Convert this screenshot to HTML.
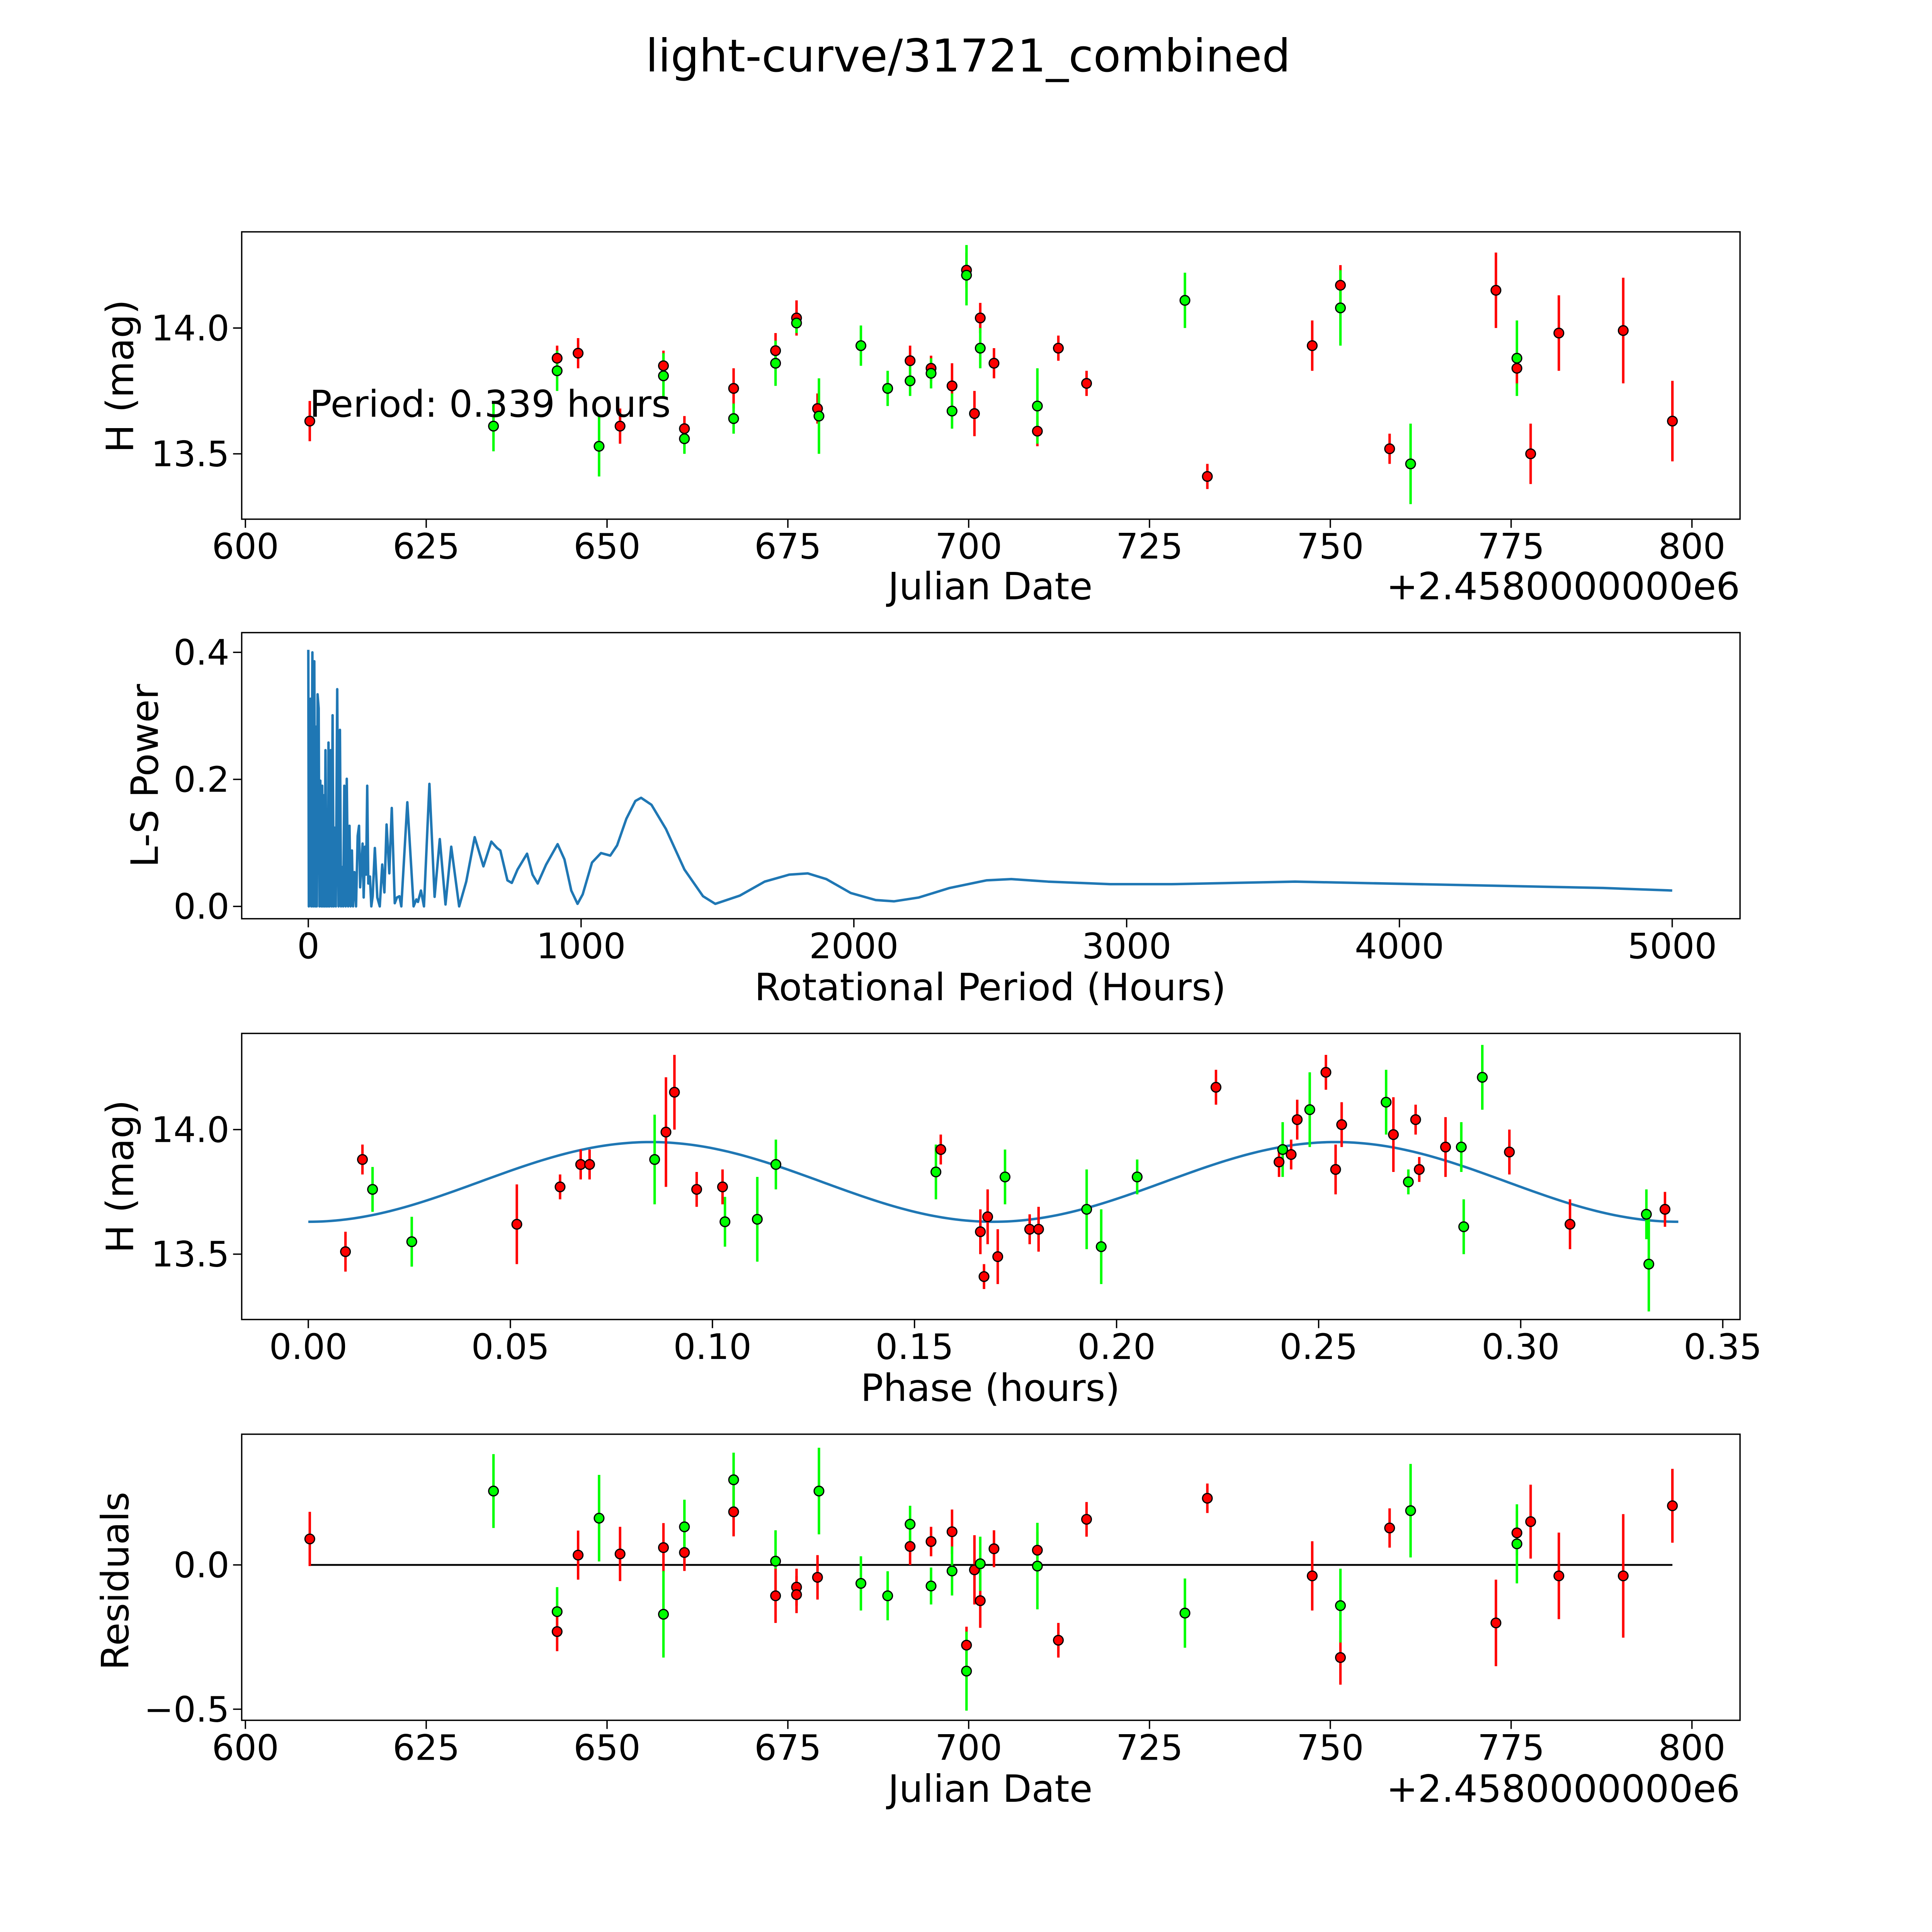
<!DOCTYPE html>
<html><head><meta charset="utf-8"><style>
html,body{margin:0;padding:0;background:#fff;overflow:hidden}
svg{display:block}
text{font-family:"DejaVu Sans","Liberation Sans",sans-serif;fill:#000}
</style></head><body>
<svg id="fig" xmlns="http://www.w3.org/2000/svg" width="5400" height="5400" viewBox="0 0 1692 1692">
<rect width="1692" height="1692" fill="#fff"/>
<text x="785" y="58" font-size="36.5" text-anchor="middle">light-curve/31721_combined</text>
</svg>
<script>
// ---- Panel 1: light curve data ----
const lcJd  = [608.9,634.3,643.1,643.1,646.0,648.9,651.8,657.8,657.8,660.7,660.7,667.5,667.5,673.3,673.3,676.2,676.2,679.1,679.3,685.1,688.8,691.9,691.9,694.8,694.8,697.7,697.7,699.7,699.7,700.8,701.6,701.6,703.5,709.5,709.5,712.4,716.3,729.9,733.0,747.5,751.4,751.4,758.2,761.1,772.9,775.8,775.8,777.7,781.6,790.5,797.3];
const lcMag = [13.63,13.61,13.88,13.83,13.90,13.53,13.61,13.85,13.81,13.60,13.56,13.76,13.64,13.91,13.86,14.04,14.02,13.68,13.65,13.93,13.76,13.87,13.79,13.84,13.82,13.77,13.67,14.23,14.21,13.66,14.04,13.92,13.86,13.59,13.69,13.92,13.78,14.11,13.41,13.93,14.17,14.08,13.52,13.46,14.15,13.88,13.84,13.50,13.98,13.99,13.63];
const lcErr = [0.08,0.10,0.05,0.08,0.06,0.12,0.07,0.06,0.09,0.05,0.06,0.08,0.06,0.07,0.09,0.07,0.04,0.06,0.15,0.08,0.07,0.06,0.06,0.05,0.06,0.09,0.07,0.07,0.12,0.09,0.06,0.08,0.06,0.06,0.15,0.05,0.05,0.11,0.05,0.10,0.08,0.15,0.06,0.16,0.15,0.15,0.06,0.12,0.15,0.21,0.16];
const lcBand= ["r","g","r","g","r","g","r","r","g","r","g","r","g","r","g","r","g","r","g","g","g","r","g","r","g","r","g","r","g","r","r","g","r","r","g","r","r","g","r","r","r","g","r","g","r","g","r","r","r","r","r"];
// ---- Panel 2: periodogram ----
const lsPeriod = [0,2,8,11,15,18,22,25,29,31,34,38,41,44,48,51,54,57,60,63,66,69,72,74,78,82,86,89,93,96,101,106,111,116,120,124,128,132,137,141,146,151,155,160,164,169,175,181,186,190,199,203,208,212,216,220,226,231,236,244,253,262,271,279,287,297,306,317,325,334,341,363,386,396,402,413,424,444,463,482,503,524,553,579,610,642,671,692,704,730,746,767,802,822,841,872,914,939,964,987,1006,1040,1073,1107,1132,1166,1199,1220,1258,1311,1379,1447,1492,1582,1673,1763,1831,1899,1989,2080,2147,2238,2351,2486,2577,2712,2939,3165,3391,3617,3843,4295,4747,5000];
const lsPower  = [0.404,0,0.327,0,0.40,0,0.386,0,0.283,0,0.334,0.312,0,0.198,0,0.19,0,0.175,0,0.246,0,0.153,0,0.258,0,0.246,0,0.301,0,0.124,0,0.342,0,0.278,0,0.062,0,0.19,0,0.201,0,0.127,0,0.088,0,0.054,0,0.111,0.127,0.03,0.099,0.014,0.094,0.05,0.19,0.036,0.047,0,0.016,0.092,0.014,0,0.066,0.022,0.129,0.052,0.155,0.005,0.014,0.016,0,0.164,0,0.011,0.007,0.025,0,0.193,0.015,0.106,0.003,0.094,0,0.039,0.109,0.063,0.102,0.092,0.088,0.041,0.037,0.058,0.083,0.05,0.036,0.066,0.098,0.074,0.025,0.004,0.019,0.069,0.084,0.08,0.096,0.138,0.166,0.171,0.16,0.122,0.058,0.016,0.004,0.017,0.039,0.05,0.052,0.043,0.021,0.01,0.008,0.014,0.029,0.041,0.043,0.039,0.035,0.035,0.037,0.039,0.037,0.033,0.029,0.025];
// ---- Panel 3: phased ----
const phX = [0.0092,0.0134,0.0159,0.0256,0.0516,0.0623,0.0674,0.0696,0.0857,0.0885,0.0906,0.0961,0.1025,0.1031,0.1111,0.1157,0.1553,0.1565,0.1663,0.1681,0.1672,0.1706,0.1724,0.1785,0.1807,0.1926,0.1962,0.2051,0.2246,0.2402,0.2411,0.2432,0.2447,0.2478,0.2518,0.2542,0.2557,0.2667,0.2685,0.2722,0.2740,0.2749,0.2814,0.2853,0.2859,0.2905,0.2972,0.3122,0.3311,0.3317,0.3357];
const phMag = [13.51,13.88,13.76,13.55,13.62,13.77,13.86,13.86,13.88,13.99,14.15,13.76,13.77,13.63,13.64,13.86,13.83,13.92,13.59,13.65,13.41,13.49,13.81,13.60,13.60,13.68,13.53,13.81,14.17,13.87,13.92,13.90,14.04,14.08,14.23,13.84,14.02,14.11,13.98,13.79,14.04,13.84,13.93,13.93,13.61,14.21,13.91,13.62,13.66,13.46,13.68];
const phErr = [0.08,0.06,0.09,0.10,0.16,0.05,0.06,0.06,0.18,0.22,0.15,0.07,0.07,0.10,0.17,0.10,0.11,0.06,0.09,0.11,0.05,0.11,0.11,0.06,0.09,0.16,0.15,0.07,0.07,0.06,0.11,0.06,0.08,0.15,0.07,0.10,0.09,0.13,0.15,0.05,0.06,0.05,0.12,0.10,0.11,0.13,0.09,0.10,0.10,0.19,0.07];
const phBand= ["r","r","g","g","r","r","r","r","g","r","r","r","r","g","g","g","g","r","r","r","r","r","g","r","r","g","g","g","r","r","g","r","r","g","r","r","r","g","r","g","r","r","r","g","g","g","r","r","g","g","r"];
const fitPeriod = 0.339, fitMean = 13.79, fitAmp = 0.16;
// ---- Panel 4: residuals ----
const rsJd  = [608.9,634.3,643.1,643.1,646.0,648.9,651.8,657.8,657.8,660.7,660.7,667.5,667.5,673.3,673.3,676.2,676.2,679.1,679.3,685.1,688.8,691.9,691.9,694.8,694.8,697.7,697.7,699.7,699.7,700.8,701.6,701.6,703.5,709.5,709.5,712.4,716.3,729.9,733.0,747.5,751.4,751.4,758.2,761.1,772.9,775.8,775.8,777.7,781.6,790.5,797.3];
const rsVal = [0.09,0.256,-0.162,-0.231,0.034,0.162,0.038,0.06,-0.171,0.043,0.132,0.184,0.295,0.013,-0.107,-0.077,-0.103,-0.043,0.256,-0.064,-0.107,0.064,0.141,0.081,-0.073,0.115,-0.021,-0.278,-0.368,-0.017,-0.124,0.004,0.056,0.051,-0.004,-0.261,0.158,-0.167,0.231,-0.038,-0.321,-0.141,0.128,0.188,-0.201,0.111,0.073,0.15,-0.038,-0.038,0.205];
const rsErr = [0.094,0.128,0.085,0.068,0.085,0.15,0.094,0.085,0.15,0.064,0.094,0.085,0.094,0.107,0.094,0.064,0.064,0.077,0.15,0.094,0.085,0.064,0.064,0.051,0.064,0.077,0.085,0.064,0.137,0.12,0.094,0.094,0.064,0.064,0.15,0.06,0.06,0.12,0.051,0.12,0.094,0.128,0.068,0.162,0.15,0.077,0.137,0.128,0.15,0.214,0.128];
const rsBand= ["r","g","g","r","r","g","r","r","g","r","g","r","g","g","r","r","r","r","g","g","g","r","g","r","g","r","g","r","g","r","r","g","r","r","g","r","r","g","r","r","r","g","r","g","r","r","g","r","r","r","r"];
const jdTicks = [600,625,650,675,700,725,750,775,800];
const lsXTicks = [0,1000,2000,3000,4000,5000];
const lsYTicks = ["0.0","0.2","0.4"];
const phXTicks = ["0.00","0.05","0.10","0.15","0.20","0.25","0.30","0.35"];
const magTicks = ["13.5","14.0"];
const rsTicks = ["\u22120.5","0.0"];

const NS="http://www.w3.org/2000/svg";
const fig=document.getElementById('fig');
function mk(tag,attrs,parent){const e=document.createElementNS(NS,tag);for(const k in attrs)e.setAttribute(k,attrs[k]);(parent||fig).appendChild(e);return e;}
const L=196,R=1411,W=R-L;
const TF=28.5, LF=30.5;
function lin(d0,d1,p0,p1){return v=>p0+(v-d0)*(p1-p0)/(d1-d0);}
function axesBox(top,bot,name){const g=mk('g',{});return g;}
function frame(g,top,bot){mk('rect',{x:L,y:top,width:W,height:bot-top,fill:'none',stroke:'#000','stroke-width':1.1},g);}
function xTick(g,px,bot,label){mk('line',{x1:px,y1:bot,x2:px,y2:bot+7,stroke:'#000','stroke-width':1.1},g);const t=mk('text',{x:px,y:bot+32,'font-size':TF,'text-anchor':'middle'},g);t.textContent=label;}
function yTick(g,py,label){mk('line',{x1:L,y1:py,x2:L-7,y2:py,stroke:'#000','stroke-width':1.1},g);const t=mk('text',{x:L-10,y:py+10,'font-size':TF,'text-anchor':'end'},g);t.textContent=label;}
function label(g,x,y,txt,rot,name,anchor){const t=mk('text',{x:x,y:y,'font-size':LF,'text-anchor':anchor||'middle'},g);if(rot)t.setAttribute('transform',`rotate(-90 ${x} ${y})`);t.textContent=txt;return t;}
const col={r:'#ff0000',g:'#00ff00'};
function errPts(g,xs,ys,es,bs,sx,sy,name){
  for(let i=0;i<xs.length;i++){
    const l=mk('line',{x1:sx(xs[i]),x2:sx(xs[i]),y1:sy(ys[i]-es[i]),y2:sy(ys[i]+es[i]),stroke:col[bs[i]],'stroke-width':2},g);
    
    
  }
  for(let i=0;i<xs.length;i++){
    const c=mk('circle',{cx:sx(xs[i]),cy:sy(ys[i]),r:3.9,fill:col[bs[i]],stroke:'#000','stroke-width':1},g);
    
    
  }
}
// Panel 1
(function(){
  const top=188,bot=421,g=axesBox(top,bot,'light-curve-axes');
  const sx=lin(600,800,199,1372), sy=lin(14.0,13.5,266,368);
  errPts(g,lcJd,lcMag,lcErr,lcBand,sx,sy,'light-curve');
  frame(g,top,bot);
  jdTicks.forEach(v=>xTick(g,sx(v),bot,String(v)));
  magTicks.forEach(v=>yTick(g,sy(parseFloat(v)),v));
  label(g,803,486,'Julian Date',false,'x-axis-title');
  label(g,1411,486,'+2.4580000000e6',false,'x-offset-text','end');
  label(g,108,305,'H (mag)',true,'y-axis-title');
  const t=mk('text',{x:251,y:338,'font-size':30},g);t.textContent='Period: 0.339 hours';
  
  
})();
// Panel 2
(function(){
  const top=513,bot=745,g=axesBox(top,bot,'periodogram-axes');
  const sx=lin(0,5000,250,1356), sy=lin(0,0.4,735,529);
  const d=lsPeriod.map((p,i)=>(i?'L':'M')+sx(p).toFixed(2)+','+sy(lsPower[i]).toFixed(2)).join(' ');
  const p=mk('path',{d:d,fill:'none',stroke:'#1f77b4','stroke-width':2,'stroke-linejoin':'round'},g);
  
  
  frame(g,top,bot);
  lsXTicks.forEach(v=>xTick(g,sx(v),bot,String(v)));
  lsYTicks.forEach(v=>yTick(g,sy(parseFloat(v)),v));
  label(g,803,811,'Rotational Period (Hours)',false,'x-axis-title');
  label(g,128,629,'L-S Power',true,'y-axis-title');
})();
// Panel 3
(function(){
  const top=838,bot=1070,g=axesBox(top,bot,'phase-axes');
  const sx=lin(0,0.35,250,1397), sy=lin(14.0,13.5,916,1017);
  let d='';
  for(let i=0;i<=300;i++){const x=fitPeriod*i/300;const y=fitMean-fitAmp*Math.cos(4*Math.PI*x/fitPeriod);d+=(i?'L':'M')+sx(x).toFixed(2)+','+sy(y).toFixed(2)+' ';}
  const p=mk('path',{d:d,fill:'none',stroke:'#1f77b4','stroke-width':2},g);
  
  
  errPts(g,phX,phMag,phErr,phBand,sx,sy,'phase');
  frame(g,top,bot);
  phXTicks.forEach(v=>xTick(g,sx(parseFloat(v)),bot,v));
  magTicks.forEach(v=>yTick(g,sy(parseFloat(v)),v));
  label(g,803,1136,'Phase (hours)',false,'x-axis-title');
  label(g,108,954,'H (mag)',true,'y-axis-title');
})();
// Panel 4
(function(){
  const top=1163,bot=1395,g=axesBox(top,bot,'residuals-axes');
  const sx=lin(600,800,199,1372), sy=lin(0,-0.5,1269,1386);
  const z=mk('line',{x1:sx(608.9),x2:sx(797.3),y1:sy(0),y2:sy(0),stroke:'#000','stroke-width':1.5},g);
  
  
  errPts(g,rsJd,rsVal,rsErr,rsBand,sx,sy,'residual');
  frame(g,top,bot);
  jdTicks.forEach(v=>xTick(g,sx(v),bot,String(v)));
  rsTicks.forEach(v=>yTick(g,sy(parseFloat(v.replace('\u2212','-'))),v));
  label(g,803,1461,'Julian Date',false,'x-axis-title');
  label(g,1411,1461,'+2.4580000000e6',false,'x-offset-text','end');
  label(g,104,1282,'Residuals',true,'y-axis-title');
})();
</script>
</body></html>
